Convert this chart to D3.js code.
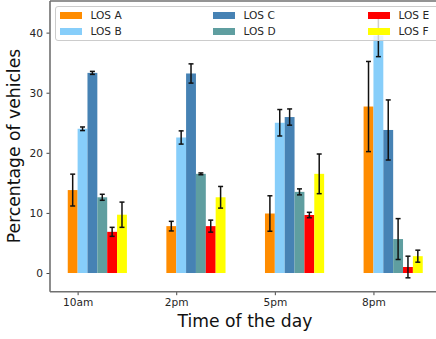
<!DOCTYPE html>
<html>
<head>
<meta charset="utf-8">
<script src="https://cdn.jsdelivr.net/npm/d3@7"></script>
<style>
  body { margin: 0; background: #fff; }
  svg { display: block; font-family: "DejaVu Sans", sans-serif; }
</style>
</head>
<body>
<div id="chart"></div>
<script>
// data
var times = ["10am", "2pm", "5pm", "8pm"];
var losNames = ["LOS A", "LOS B", "LOS C", "LOS D", "LOS E", "LOS F"];
var losColors = ["#ff8c00", "#87cefa", "#4682b4", "#5f9ea0", "#ff0000", "#ffff00"];

var losA = [13.8, 7.8, 9.9, 27.7];
var losB = [24.0, 22.55, 25.0, 39.5];
var losC = [33.3, 33.2, 25.95, 23.8];
var losD = [12.6, 16.5, 13.5, 5.65];
var losE = [6.85, 7.8, 9.65, 1.0];
var losF = [9.7, 12.6, 16.5, 2.8];

var errA = [2.65, 0.8, 2.95, 7.5];
var errB = [0.3, 1.1, 2.2, 3.5];
var errC = [0.25, 1.6, 1.35, 5.0];
var errD = [0.5, 0.15, 0.5, 3.4];
var errE = [0.75, 1.0, 0.45, 1.8];
var errF = [2.1, 1.8, 3.3, 1.0];

var yTicks = [0, 10, 20, 30, 40];

var series = [losA, losB, losC, losD, losE, losF];
var errors = [errA, errB, errC, errD, errE, errF];

var width = 436, height = 339;
var barW = 0.1;

var svg = d3.select("#chart").append("svg")
    .attr("width", width).attr("height", height);

// axes area runs past the right edge of the picture
var x = d3.scaleLinear().domain([-0.28, 3.68]).range([50, 440.5]);
var y = d3.scaleLinear().domain([-3.11, 45.26]).range([291.7, 1]);

// flatten into bar records
var bars = [];
series.forEach(function(s, i) {
    s.forEach(function(v, j) {
        bars.push({los: i, t: j, value: v, err: errors[i][j]});
    });
});

svg.append("g").selectAll("rect")
    .data(bars)
  .enter().append("rect")
    .attr("x", function(d) { return x(d.t + (d.los - 1) * barW); })
    .attr("width", function(d) { return x(d.t + d.los * barW) - x(d.t + (d.los - 1) * barW); })
    .attr("y", function(d) { return y(Math.max(0, d.value)); })
    .attr("height", function(d) { return Math.abs(y(0) - y(d.value)); })
    .attr("fill", function(d) { return losColors[d.los]; });

// error bars
var eb = svg.append("g").selectAll("g")
    .data(bars)
  .enter().append("g")
    .attr("stroke", "#111")
    .attr("stroke-width", 1.5);

function cx(d) { return x(d.t + (d.los - 0.5) * barW); }

eb.append("line")
    .attr("x1", cx).attr("x2", cx)
    .attr("y1", function(d) { return y(d.value - d.err); })
    .attr("y2", function(d) { return y(d.value + d.err); });
eb.append("line")
    .attr("x1", function(d) { return cx(d) - 2.5; })
    .attr("x2", function(d) { return cx(d) + 2.5; })
    .attr("y1", function(d) { return y(d.value + d.err); })
    .attr("y2", function(d) { return y(d.value + d.err); });
eb.append("line")
    .attr("x1", function(d) { return cx(d) - 2.5; })
    .attr("x2", function(d) { return cx(d) + 2.5; })
    .attr("y1", function(d) { return y(d.value - d.err); })
    .attr("y2", function(d) { return y(d.value - d.err); });

// axes
var xAxis = d3.axisBottom(x)
    .tickValues(d3.range(times.length))
    .tickFormat(function(i) { return times[i]; })
    .tickSize(3.5).tickPadding(3.5);
var yAxis = d3.axisLeft(y).tickValues(yTicks).tickSize(3.5).tickPadding(3.5);

var gx = svg.append("g").attr("transform", "translate(0," + y.range()[0] + ")").call(xAxis);
var gy = svg.append("g").attr("transform", "translate(" + x.range()[0] + ",0)").call(yAxis);

[gx, gy].forEach(function(g) {
    g.select(".domain").remove();
    g.selectAll(".tick line").attr("stroke", "#444").attr("stroke-width", 1);
    g.selectAll(".tick text").attr("fill", "#262626")
        .style("font-size", "10.6px").style("font-family", "DejaVu Sans");
});

// spines
svg.append("line").attr("x1", 50).attr("x2", 50).attr("y1", 1).attr("y2", 291.7)
    .attr("stroke", "#707070").attr("stroke-width", 1.6);
svg.append("line").attr("x1", 50).attr("x2", 440.5).attr("y1", 291.7).attr("y2", 291.7)
    .attr("stroke", "#707070").attr("stroke-width", 1.6);
svg.append("line").attr("x1", 50).attr("x2", 440.5).attr("y1", 1).attr("y2", 1)
    .attr("stroke", "#707070").attr("stroke-width", 1.6);

// axis labels
svg.append("text")
    .attr("x", 245).attr("y", 327)
    .attr("text-anchor", "middle")
    .attr("fill", "#111")
    .style("font-size", "17.2px")
    .text("Time of the day");

svg.append("text")
    .attr("transform", "translate(19.5,146) rotate(-90)")
    .attr("text-anchor", "middle")
    .attr("fill", "#111")
    .style("font-size", "17.2px")
    .text("Percentage of vehicles");

// legend, 3 columns spread over the axes
var legend = svg.append("g");
legend.append("rect")
    .attr("x", 55.5).attr("y", 6.5).attr("width", 390).attr("height", 34)
    .attr("rx", 2.5)
    .attr("fill", "#fff").attr("fill-opacity", 0.8)
    .attr("stroke", "#cccccc").attr("stroke-width", 1);

var colX = [60, 213, 368];
var li = legend.selectAll("g.item")
    .data(losNames)
  .enter().append("g")
    .attr("class", "item")
    .attr("transform", function(d, i) {
        return "translate(" + colX[Math.floor(i / 2)] + "," + (i % 2 === 0 ? 12 : 28) + ")";
    });
li.append("rect")
    .attr("width", 22).attr("height", 7)
    .attr("fill", function(d, i) { return losColors[i]; });
li.append("text")
    .attr("x", 30.5).attr("y", 7.2)
    .attr("fill", "#262626")
    .style("font-size", "10.6px")
    .text(function(d) { return d; });
</script>
</body>
</html>
